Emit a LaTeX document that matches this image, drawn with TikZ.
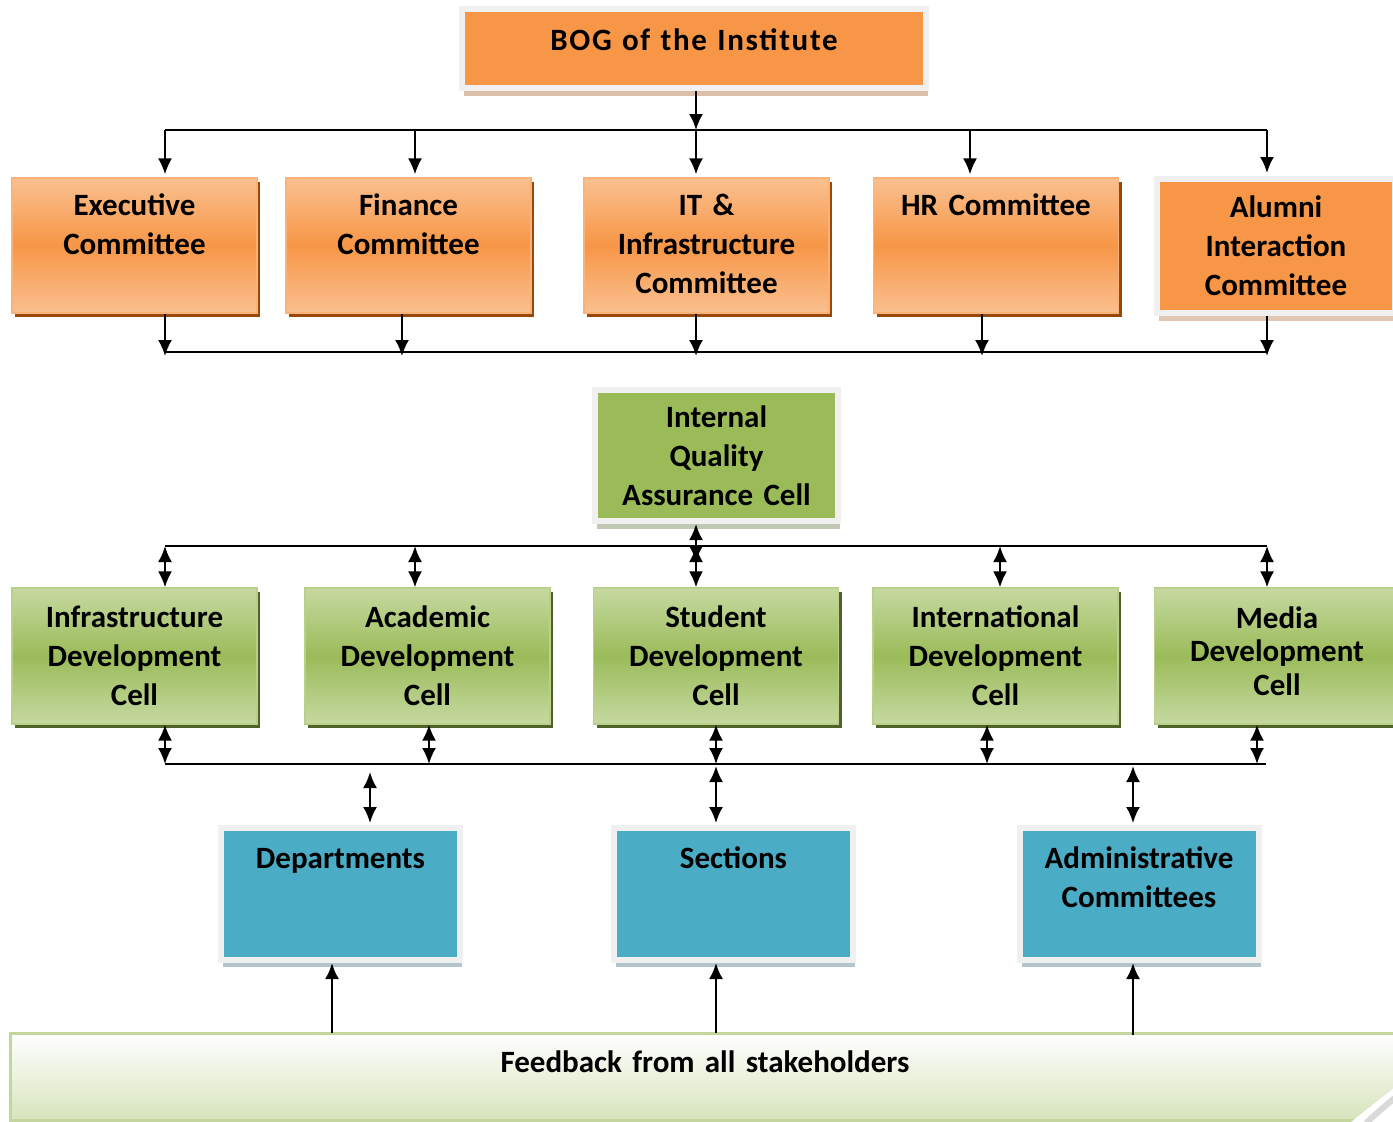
\documentclass[tikz,border=0pt]{standalone}
\usepackage{fontspec}
\setmainfont{Carlito}
\usepackage{tikz}
\usetikzlibrary{arrows.meta}
\usetikzlibrary{shadows}

\definecolor{orgM}{HTML}{F79646}
\definecolor{orgL}{HTML}{FAC090}
\definecolor{orgD}{HTML}{984807}
\definecolor{grnM}{HTML}{9BBB59}
\definecolor{grnL}{HTML}{C6D9A1}
\definecolor{grnD}{HTML}{4F6228}
\definecolor{bluM}{HTML}{4BACC6}
\definecolor{bluS}{HTML}{B3C4CC}
\definecolor{frm}{HTML}{F0F0F0}
\definecolor{fbL}{HTML}{D7E4BD}
\definecolor{fbB}{HTML}{C3D69B}

\begin{document}
\begin{tikzpicture}[x=0.5pt,y=-0.5pt,>={Latex[length=8pt,width=7pt]},line width=1.1pt,
  txt/.style={font=\fontsize{15.5}{19.5}\selectfont\bfseries,align=center,inner sep=0pt},
  obox/.style={txt,text width=118pt,minimum width=122.5pt,text height=18.5pt,text depth=49pt,
    top color=orgL,bottom color=orgL,middle color=orgM,draw=orgL!70!orgM,line width=0.6pt,
    drop shadow={shadow xshift=1.5pt,shadow yshift=-2pt,fill=orgD,opacity=1}},
  gbox/.style={txt,text width=118pt,minimum width=122.5pt,minimum height=68pt,
    top color=grnL,bottom color=grnL,middle color=grnM,draw=grnL!70!grnM,line width=0.6pt,
    drop shadow={shadow xshift=1.5pt,shadow yshift=-2pt,fill=grnD,opacity=1}},
  flat/.style={txt,draw=frm,line width=3pt},
  bbox/.style={flat,fill=bluM,text width=119.5pt,text height=20pt,text depth=46pt,
    drop shadow={shadow xshift=1pt,shadow yshift=-3.5pt,fill=bluS,opacity=1}},
  fbbox/.style={txt,text width=695pt,text height=19.5pt,text depth=24pt,
    top color=white,bottom color=fbL,draw=fbB,line width=1.5pt,
    drop shadow={shadow xshift=0.5pt,shadow yshift=-1pt,fill=fbB!80!black,opacity=0.5}}]
\useasboundingbox (0,0) rectangle (1393,1121);

\node[flat,fill=orgM,text width=232pt,text height=20.5pt,text depth=19pt,
  drop shadow={shadow xshift=1pt,shadow yshift=-4pt,fill=orgD!35,opacity=1}] (bog) at (694,48.5)
  {\addfontfeature{LetterSpace=5.5}BOG of the Institute};

\node[obox] (exec) at (134.5,245.5) {Executive\\Committee};
\node[obox] (fin) at (408.5,245.5) {Finance\\Committee};
\node[obox] (it) at (706.5,245.5) {IT \&\\Infrastructure\\Committee};
\node[obox] (hr) at (996,245.5) {HR Committee};
\node[flat,fill=orgM,text width=119pt,minimum height=67pt,
  drop shadow={shadow xshift=1pt,shadow yshift=-4pt,fill=orgD!30,opacity=1}] (alum) at (1276,246)
  {Alumni\\Interaction\\Committee};

\node[flat,fill=grnM,text width=121.5pt,minimum height=65.5pt,
  drop shadow={shadow xshift=1pt,shadow yshift=-4pt,fill=grnD!35,opacity=1}] (iqac) at (716.5,455.5)
  {Internal\\Quality\\Assurance Cell};

\node[gbox] (idc) at (134.5,656) {Infrastructure\\Development\\Cell};
\node[gbox] (adc) at (427.5,656) {Academic\\Development\\Cell};
\node[gbox] (sdc) at (716,656) {Student\\Development\\Cell};
\node[gbox] (intl) at (995.5,656) {International\\Development\\Cell};
\node[gbox,font=\fontsize{15.5}{16.75}\selectfont\bfseries,text height=20pt,text depth=48pt] (mdc) at (1277,656)
  {Media\\Development\\Cell};

\node[bbox] (dept) at (340.5,894) {Departments};
\node[bbox] (sec) at (733.5,894) {Sections};
\node[bbox] (adm) at (1139,894) {Administrative\\Committees};

\node[fbbox] (fb) at (705,1076.5) {Feedback from all stakeholders};
\fill[white] (1350,1123) .. controls (1368,1108) and (1382,1098) .. (1396,1086) -- (1396,1123) -- cycle;
\draw[gray!30,line width=3pt] (1366,1123) .. controls (1377,1113) and (1386,1105) .. (1396,1097);

% BOG to committees
\foreach \x [count=\i] in {165,415,696,970,1267} \coordinate (t\i) at (\x,130);
\draw (t1) -- (t5);
\draw[->] (bog.south -| t3) -- (t3);
\foreach \i/\n in {1/exec,2/fin,3/it,4/hr,5/alum} \draw[->,shorten >=1.5pt] (t\i) -- (t\i |- \n.north);

\foreach \x [count=\i] in {165,402,696,982,1267} \coordinate (c\i) at (\x,352);
\draw (c1) -- (c5);
\foreach \i/\n in {1/exec,2/fin,3/it,4/hr,5/alum} \draw[->,shorten >=-2pt] (\n.south -| c\i) -- (c\i);

% IQAC and the cells
\foreach \x [count=\i] in {165,415,696,1000,1267} \coordinate (m\i) at (\x,546);
\draw (m1) -- (m5);
\coordinate (q) at (696,562);
\draw[<->] (iqac.south -| q) -- (q);
\foreach \i/\n in {1/idc,2/adc,3/sdc,4/intl,5/mdc} \draw[<->] (m\i) -- (m\i |- \n.north);

\foreach \x [count=\i] in {165,429,716,987,1257} \coordinate (l\i) at (\x,764);
\coordinate (lR) at (1266,764);
\draw (l1) -- (lR);
\foreach \i/\n in {1/idc,2/adc,3/sdc,4/intl,5/mdc} \draw[<->] (\n.south -| l\i) -- (l\i);

\coordinate (d1) at (370,772);
\coordinate (d2) at (716,766);
\coordinate (d3) at (1133,766);
\foreach \i/\n in {1/dept,2/sec,3/adm} \draw[<->,shorten >=1pt] (d\i) -- (d\i |- \n.north);

% feedback
\coordinate (f1) at (332,1033);
\coordinate (f2) at (716,1033);
\coordinate (f3) at (1133,1035);
\foreach \i/\n in {1/dept,2/sec,3/adm} \draw[->] (f\i) -- (f\i |- \n.south);
\end{tikzpicture}
\end{document}
